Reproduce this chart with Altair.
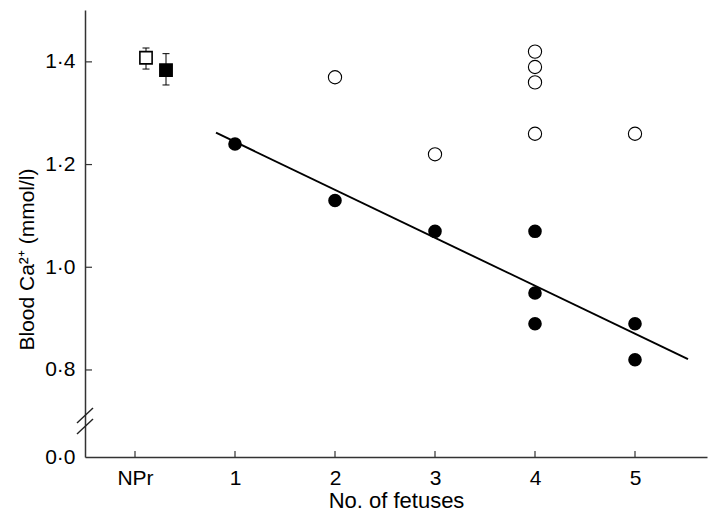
import altair as alt
import pandas as pd

# ---- data ----
fetuses_filled = [1, 2, 3, 4, 4, 4, 5, 5]
ca_filled = [1.24, 1.13, 1.07, 1.07, 0.95, 0.89, 0.89, 0.82]
fetuses_open = [2, 3, 4, 4, 4, 4, 5]
ca_open = [1.37, 1.22, 1.42, 1.39, 1.36, 1.26, 1.26]

npr_x = [0.11, 0.31]
npr_mean = [1.408, 1.384]
npr_low = [1.386, 1.355]
npr_high = [1.427, 1.416]
npr_group = ["open", "filled"]

fit_x = [0.81, 5.53]
fit_y = [1.262, 0.821]

x_tick_values = [0, 1, 2, 3, 4, 5]
x_tick_labels = ["NPr", "1", "2", "3", "4", "5"]
y_tick_values = [0.6305, 0.8, 1.0, 1.2, 1.4]
y_tick_labels = ["0·0", "0·8", "1·0", "1·2", "1·4"]
y_inner_ticks = [0.8, 1.0, 1.2, 1.4]

break_x1 = [-0.58, -0.58]
break_x2 = [-0.42, -0.42]
break_y1 = [0.6967, 0.6753]
break_y2 = [0.726, 0.7045]

x_domain = [-0.5, 5.72]
y_domain = [0.6305, 1.501]


def label_expr(values, labels):
    expr = "''"
    for v, l in reversed(list(zip(values, labels))):
        expr = f"abs(datum.value - {v}) < 1e-6 ? '{l}' : ({expr})"
    return expr


FONT = "Liberation Sans"
xs = alt.Scale(domain=x_domain, nice=False, zero=False)
ys = alt.Scale(domain=y_domain, nice=False, zero=False)

x_axis = alt.Axis(
    values=x_tick_values,
    labelExpr=label_expr(x_tick_values, x_tick_labels),
    ticks=False, grid=False, labelPadding=10, labelFontSize=21,
    title="No. of fetuses", titleFontSize=22, titlePadding=2,
    titleFontWeight="normal", labelFlush=False,
)
y_axis = alt.Axis(
    values=y_tick_values,
    labelExpr=label_expr(y_tick_values, y_tick_labels),
    ticks=False, grid=False, labelPadding=10, labelFontSize=21,
    title="Blood Ca²⁺ (mmol/l)", titleFontSize=21, titleFontWeight="normal",
    titleX=-52, titleY=249, titleBaseline="alphabetic", titleAlign="center",
    titleAngle=270, labelFlush=False,
)


def X(field):
    return alt.X(f"{field}:Q", scale=xs, axis=x_axis)


def Y(field):
    return alt.Y(f"{field}:Q", scale=ys, axis=y_axis)


filled_df = pd.DataFrame({"x": fetuses_filled, "y": ca_filled})
open_df = pd.DataFrame({"x": fetuses_open, "y": ca_open})
npr_df = pd.DataFrame({"x": npr_x, "y": npr_mean, "lo": npr_low,
                       "hi": npr_high, "g": npr_group})
fit_df = pd.DataFrame({"x": fit_x, "y": fit_y})
ytick_df = pd.DataFrame({"y": y_inner_ticks})
xtick_df = pd.DataFrame({"x": x_tick_values})
break_df = pd.DataFrame({"x": break_x1, "x2": break_x2, "y": break_y1, "y2": break_y2})

fit_line = alt.Chart(fit_df).mark_line(color="black", strokeWidth=1.9).encode(
    x=X("x"), y=Y("y"))

filled_pts = alt.Chart(filled_df).mark_circle(
    color="black", opacity=1, size=185).encode(x=X("x"), y=Y("y"))

open_pts = alt.Chart(open_df).mark_point(
    shape="circle", filled=False, color="black", strokeWidth=1.1, size=175,
    opacity=1).encode(x=X("x"), y=Y("y"))

err_rule = alt.Chart(npr_df).mark_rule(color="black", strokeWidth=1).encode(
    x=X("x"), y=Y("lo"), y2="hi")
err_cap_lo = alt.Chart(npr_df).mark_tick(
    color="black", orient="horizontal", size=7, thickness=1, opacity=1).encode(
    x=X("x"), y=Y("lo"))
err_cap_hi = alt.Chart(npr_df).mark_tick(
    color="black", orient="horizontal", size=7, thickness=1, opacity=1).encode(
    x=X("x"), y=Y("hi"))
squares = alt.Chart(npr_df).mark_square(
    stroke="black", strokeWidth=1.6, size=150, opacity=1).encode(
    x=X("x"), y=Y("y"),
    fill=alt.Fill("g:N", scale=alt.Scale(domain=["open", "filled"],
                                         range=["white", "black"]), legend=None))

y_ticks = alt.Chart(ytick_df).mark_rule(color="#333", strokeWidth=1.2).encode(
    y=Y("y"), x=alt.value(0), x2=alt.value(7))
x_ticks = alt.Chart(xtick_df).mark_rule(color="#333", strokeWidth=1.2).encode(
    x=X("x"), y=alt.value(447), y2=alt.value(441))

breaks = alt.Chart(break_df).mark_rule(color="#222", strokeWidth=1.4, clip=False).encode(
    x=X("x"), x2="x2", y=Y("y"), y2="y2")

chart = alt.layer(
    y_ticks, x_ticks, breaks, fit_line, filled_pts, open_pts,
    err_rule, err_cap_lo, err_cap_hi, squares,
).properties(
    width=622, height=447,
    autosize=alt.AutoSizeParams(type="none"),
    padding={"left": 77, "top": 2, "right": 2, "bottom": 55},
).configure_view(stroke=None).configure_axis(
    domainColor="#333", domainWidth=1.5, labelColor="black",
    titleColor="black", labelFont=FONT, titleFont=FONT,
)

chart.save("out.html", embed_options={"renderer": "svg", "actions": False})
